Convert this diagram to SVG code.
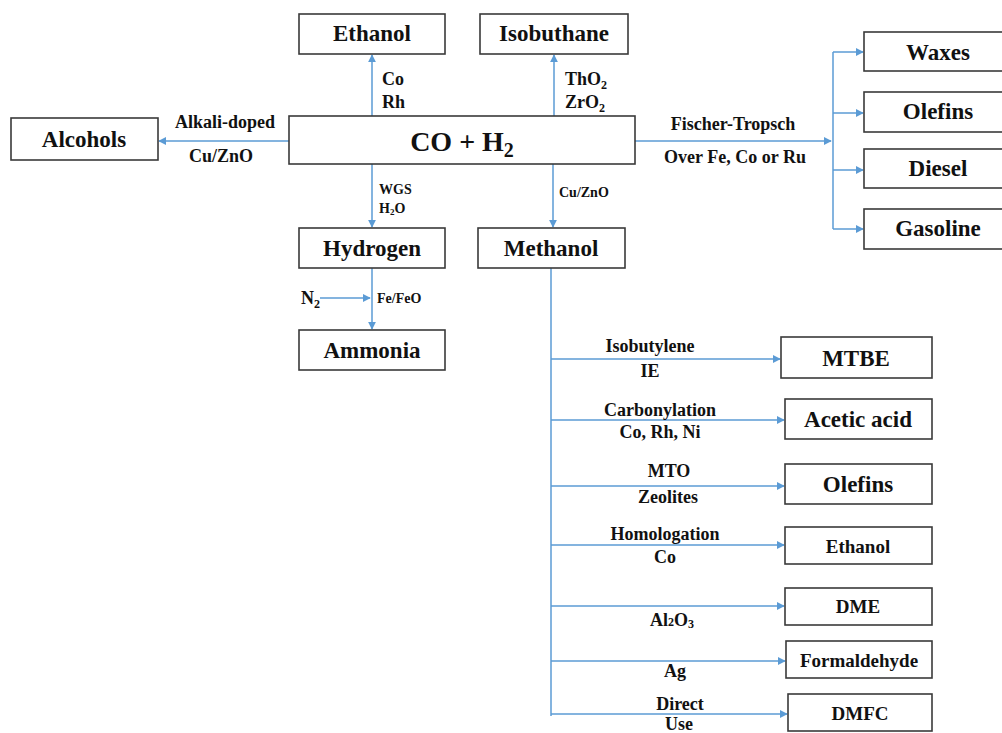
<svg xmlns="http://www.w3.org/2000/svg" width="1002" height="733" viewBox="0 0 1002 733">
<defs>
<marker id="ah" viewBox="0 0 10 10" refX="9" refY="5" markerWidth="8" markerHeight="8" markerUnits="userSpaceOnUse" orient="auto">
<path d="M0,0 L10,5 L0,10 z" fill="#5b9bd5"/>
</marker>
<style>
.box{fill:#fff;stroke:#3a3a3a;stroke-width:1.6}
.t{font-family:"Liberation Serif","Times New Roman",serif;font-weight:bold;fill:#111}
.big{font-size:23px;text-anchor:middle}
.mid{font-size:19px;text-anchor:middle}
.lab{font-size:18px}
.sm{font-size:14px}
.c{text-anchor:middle}
.ln{fill:none;stroke:#5b9bd5;stroke-width:1.5}
.ar{fill:none;stroke:#5b9bd5;stroke-width:1.5;marker-end:url(#ah)}
</style>
</defs>
<rect width="1002" height="733" fill="#fff"/>
<g id="connectors">
<path class="ar" d="M372,116 V55"/>
<path class="ar" d="M554,116 V55"/>
<path class="ar" d="M289,141 H159"/>
<path class="ar" d="M372,164 V227"/>
<path class="ar" d="M553,164 V227"/>
<path class="ar" d="M635,141 H831"/>
<path class="ln" d="M833,52 V229"/>
<path class="ar" d="M833,52 H863"/>
<path class="ar" d="M833,113 H863"/>
<path class="ar" d="M833,170 H863"/>
<path class="ar" d="M833,229 H863"/>
<path class="ar" d="M372,268 V329"/>
<path class="ar" d="M320,298 H370"/>
<path class="ln" d="M551,268 V716"/>
<path class="ar" d="M551,359 H780"/>
<path class="ar" d="M551,420 H784"/>
<path class="ar" d="M551,486 H784"/>
<path class="ar" d="M551,545 H784"/>
<path class="ar" d="M551,606 H784"/>
<path class="ar" d="M551,661 H785"/>
<path class="ar" d="M551,714 H787"/>
</g>
<g id="n-syngas"><rect class="box" x="289" y="116" width="346" height="48"/><text class="t c" x="462" y="151" font-size="28">CO + H<tspan font-size="20" dy="6">2</tspan></text></g>
<g id="n-ethanol-top"><rect class="box" x="299" y="14" width="146" height="40"/><text class="t big" x="372" y="41">Ethanol</text></g>
<g id="n-isobuthane"><rect class="box" x="480" y="14" width="148" height="40"/><text class="t big" x="554" y="41">Isobuthane</text></g>
<g id="n-alcohols"><rect class="box" x="11" y="118" width="147" height="42"/><text class="t big" x="84" y="147">Alcohols</text></g>
<g id="n-hydrogen"><rect class="box" x="299" y="228" width="146" height="40"/><text class="t big" x="372" y="256">Hydrogen</text></g>
<g id="n-methanol"><rect class="box" x="478" y="228" width="147" height="40"/><text class="t big" x="551" y="256">Methanol</text></g>
<g id="n-ammonia"><rect class="box" x="299" y="330" width="146" height="40"/><text class="t big" x="372" y="358">Ammonia</text></g>
<g id="n-waxes"><rect class="box" x="864" y="32" width="150" height="39"/><text class="t big" x="938" y="60">Waxes</text></g>
<g id="n-olefins-ft"><rect class="box" x="864" y="92" width="150" height="40"/><text class="t big" x="938" y="119">Olefins</text></g>
<g id="n-diesel"><rect class="box" x="864" y="149" width="150" height="39"/><text class="t big" x="938" y="176">Diesel</text></g>
<g id="n-gasoline"><rect class="box" x="864" y="209" width="150" height="40"/><text class="t big" x="938" y="236">Gasoline</text></g>
<g id="n-mtbe"><rect class="box" x="781" y="337" width="151" height="41"/><text class="t big" x="856" y="366">MTBE</text></g>
<g id="n-acetic"><rect class="box" x="785" y="399" width="147" height="40"/><text class="t big" x="858" y="427">Acetic acid</text></g>
<g id="n-olefins-mto"><rect class="box" x="785" y="464" width="147" height="40"/><text class="t big" x="858" y="492">Olefins</text></g>
<g id="n-ethanol-hom"><rect class="box" x="785" y="527" width="147" height="37"/><text class="t mid" x="858" y="553">Ethanol</text></g>
<g id="n-dme"><rect class="box" x="785" y="588" width="147" height="37"/><text class="t mid" x="858" y="613">DME</text></g>
<g id="n-formaldehyde"><rect class="box" x="786" y="641" width="146" height="37"/><text class="t mid" x="859" y="667">Formaldehyde</text></g>
<g id="n-dmfc"><rect class="box" x="788" y="694" width="144" height="37"/><text class="t mid" x="860" y="720">DMFC</text></g>
<g id="labels">
<text class="t lab" x="382" y="85">Co</text>
<text class="t lab" x="382" y="108">Rh</text>
<text class="t lab" x="565" y="85">ThO<tspan font-size="12" dy="4">2</tspan></text>
<text class="t lab" x="565" y="108">ZrO<tspan font-size="12" dy="4">2</tspan></text>
<text class="t lab c" x="225" y="128">Alkali-doped</text>
<text class="t lab c" x="221" y="162">Cu/ZnO</text>
<text class="t sm" x="379" y="194">WGS</text>
<text class="t sm" x="379" y="213">H<tspan font-size="9" dy="2">2</tspan><tspan dy="-2">O</tspan></text>
<text class="t sm" x="559" y="197">Cu/ZnO</text>
<text class="t lab c" x="733" y="130">Fischer-Tropsch</text>
<text class="t lab c" x="735" y="163">Over Fe, Co or Ru</text>
<text class="t lab" x="301" y="304">N<tspan font-size="12" dy="4">2</tspan></text>
<text class="t sm" x="377" y="303">Fe/FeO</text>
<text class="t lab c" x="650" y="352">Isobutylene</text>
<text class="t lab c" x="650" y="377">IE</text>
<text class="t lab c" x="660" y="416">Carbonylation</text>
<text class="t lab c" x="660" y="438">Co, Rh, Ni</text>
<text class="t lab c" x="669" y="477">MTO</text>
<text class="t lab c" x="668" y="503">Zeolites</text>
<text class="t lab c" x="665" y="540">Homologation</text>
<text class="t lab c" x="665" y="563">Co</text>
<text class="t lab c" x="672" y="626">Al<tspan font-size="12">2</tspan>O<tspan font-size="12" dy="2">3</tspan></text>
<text class="t lab c" x="675" y="677">Ag</text>
<text class="t lab c" x="680" y="710">Direct</text>
<text class="t lab c" x="679" y="730">Use</text>
</g>
</svg>
